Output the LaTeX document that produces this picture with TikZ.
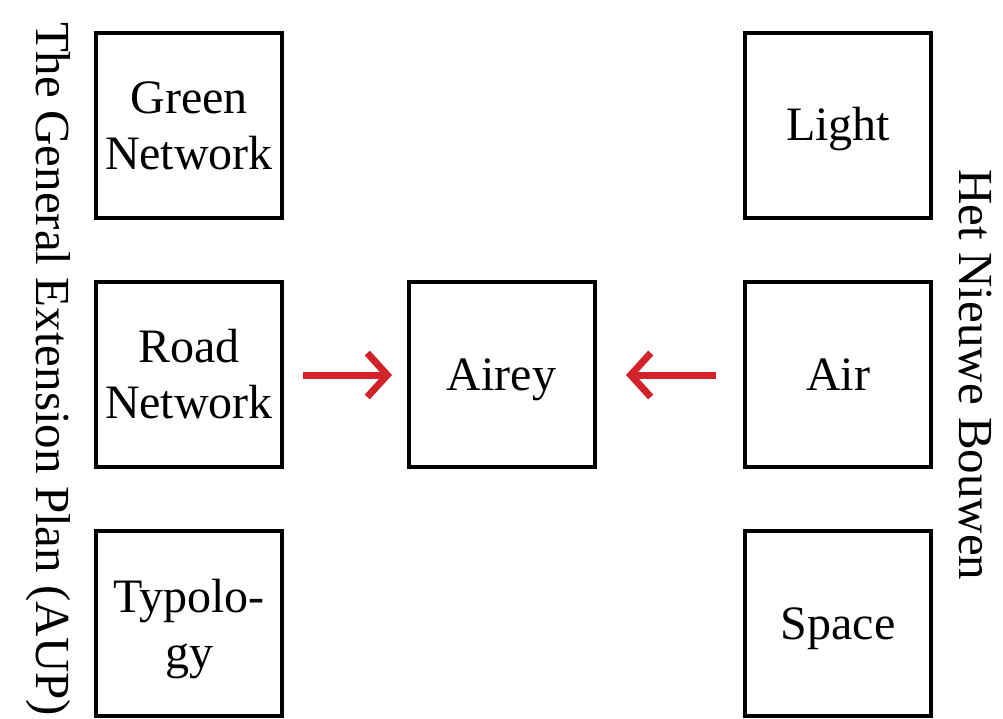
\documentclass[tikz,border=0pt]{standalone}
\usepackage{fontspec}
\setmainfont{Liberation Serif}
\usetikzlibrary{arrows.meta}
\definecolor{arrowred}{HTML}{D2232A}
\begin{document}
\begin{tikzpicture}[x=1pt,y=-1pt,
  box/.style={draw=black,line width=4pt,minimum width=186pt,minimum height=185pt,inner sep=0pt,align=center,
    font=\fontsize{48}{56}\selectfont},
  oneline/.style={text height=33pt,text depth=2pt},
  side/.style={rotate=-90,font=\fontsize{49}{56}\selectfont,inner sep=0pt},
  redarrow/.style={draw=arrowred,line width=7pt,-{Straight Barb[length=20pt,width=44pt,line width=7pt]}}]
\useasboundingbox (0,0) rectangle (1003,719);
\node[box] (green) at (189,125.5) {Green\\Network};
\node[box] (road) at (189,374.5) {Road\\Network};
\node[box,text depth=-4pt] (typo) at (189,623.5) {Typolo-\\gy};
\node[box,oneline] (airey) at (501.5,374.5) {Airey};
\node[box,oneline] (light) at (838,125.5) {Light};
\node[box,oneline] (air) at (838,374.5) {Air};
\node[box,oneline] (space) at (838,623.5) {Space};
\node[side] (aup) at (48,369) {The General Extension Plan (AUP)};
\node[side] (hnb) at (975,375) {Het Nieuwe Bouwen};
\coordinate (la) at (303,375);
\coordinate (lb) at (392,375);
\coordinate (ra) at (716,375);
\coordinate (rb) at (626,375);
\draw[redarrow] (la) -- (lb);
\draw[redarrow] (ra) -- (rb);
\end{tikzpicture}
\end{document}
